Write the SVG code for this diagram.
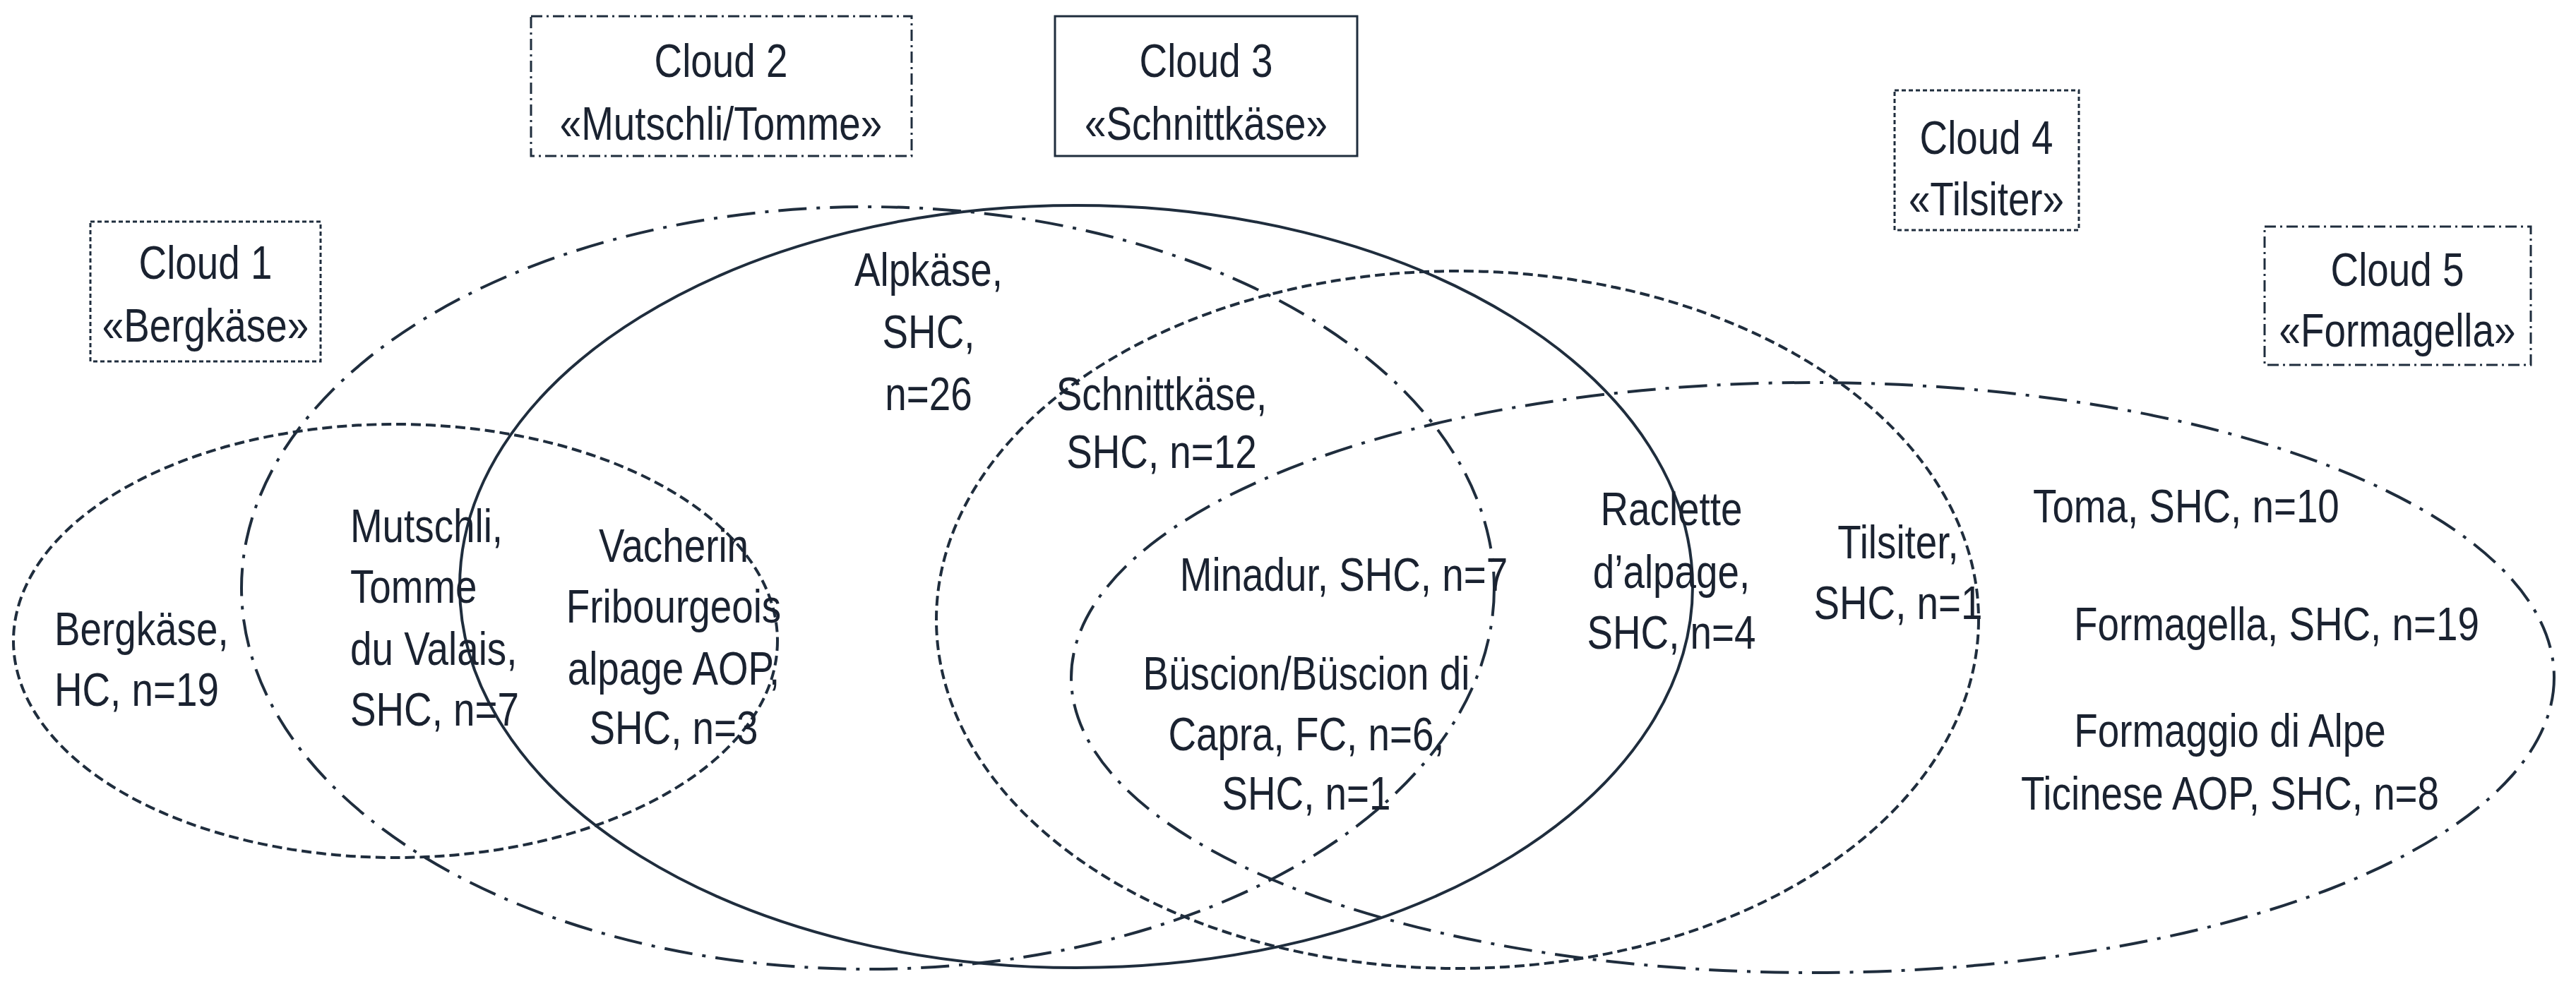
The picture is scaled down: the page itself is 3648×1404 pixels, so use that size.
<svg xmlns="http://www.w3.org/2000/svg" width="3648" height="1404" viewBox="0 0 3648 1404">
<style>
text{font-family:"Liberation Sans",Arial,sans-serif;font-size:66px;fill:#1a2230;dominant-baseline:central;transform-box:fill-box;transform-origin:center;transform:scaleX(0.83)}
.c{text-anchor:middle}
.l{transform-origin:left center}
.e{fill:none;stroke:#1f2d3d;stroke-width:4}
.dash{stroke-dasharray:14 7}
.dd{stroke-dasharray:40 14 5 14}
.b{fill:#fff;stroke:#1f2d3d;stroke-width:3}
.dot{stroke-dasharray:6 4}
.bdd{stroke-dasharray:16 6 3 6}
</style>
<rect width="3648" height="1404" fill="#fff"/>
<g id="sets">
<ellipse id="c1" class="e dash" cx="560" cy="908" rx="541" ry="307"/>
<ellipse id="c2" class="e dd" cx="1229" cy="833" rx="887" ry="540"/>
<ellipse id="c3" class="e" cx="1524" cy="831" rx="873" ry="540"/>
<ellipse id="c4" class="e dash" cx="2064" cy="878" rx="738" ry="494"/>
<ellipse id="c5" class="e dd" cx="2567" cy="960" rx="1050" ry="418"/>
</g>
<g id="cloud1"><rect class="b dot" x="128" y="314" width="326" height="198"/><text class="c" x="291" y="372">Cloud 1</text><text class="c" x="291" y="461">«Bergkäse»</text></g>
<g id="cloud2"><rect class="b bdd" x="752" y="23" width="539" height="198"/><text class="c" x="1021" y="86">Cloud 2</text><text class="c" x="1021" y="175">«Mutschli/Tomme»</text></g>
<g id="cloud3"><rect class="b" x="1494" y="23" width="428" height="198"/><text class="c" x="1708" y="86">Cloud 3</text><text class="c" x="1708" y="175">«Schnittkäse»</text></g>
<g id="cloud4"><rect class="b dot" x="2683" y="128" width="261" height="198"/><text class="c" x="2813" y="195">Cloud 4</text><text class="c" x="2813" y="282">«Tilsiter»</text></g>
<g id="cloud5"><rect class="b bdd" x="3207" y="321" width="377" height="196"/><text class="c" x="3395" y="382">Cloud 5</text><text class="c" x="3395" y="468">«Formagella»</text></g>
<g id="labels">
<text class="l" x="77" y="891">Bergkäse,</text><text class="l" x="77" y="977">HC, n=19</text>
<text class="l" x="496" y="745">Mutschli,</text><text class="l" x="496" y="831">Tomme</text><text class="l" x="496" y="919">du Valais,</text><text class="l" x="496" y="1005">SHC, n=7</text>
<text class="c" x="954" y="773">Vacherin</text><text class="c" x="954" y="859">Fribourgeois</text><text class="c" x="954" y="947">alpage AOP,</text><text class="c" x="954" y="1031">SHC, n=3</text>
<text class="c" x="1315" y="382">Alpkäse,</text><text class="c" x="1315" y="470">SHC,</text><text class="c" x="1315" y="558">n=26</text>
<text class="c" x="1645" y="558">Schnittkäse,</text><text class="c" x="1645" y="640">SHC, n=12</text>
<text class="c" x="1903" y="814">Minadur, SHC, n=7</text>
<text class="c" x="1850" y="954">Büscion/Büscion di</text><text class="c" x="1850" y="1040">Capra, FC, n=6,</text><text class="c" x="1850" y="1124">SHC, n=1</text>
<text class="c" x="2367" y="721">Raclette</text><text class="c" x="2367" y="810">d’alpage,</text><text class="c" x="2367" y="896">SHC, n=4</text>
<text class="c" x="2688" y="768">Tilsiter,</text><text class="c" x="2688" y="854">SHC, n=1</text>
<text class="l" x="2879" y="717">Toma, SHC, n=10</text>
<text class="l" x="2937" y="884">Formagella, SHC, n=19</text>
<text class="c" x="3158" y="1035">Formaggio di Alpe</text><text class="c" x="3158" y="1124">Ticinese AOP, SHC, n=8</text>
</g>
</svg>
